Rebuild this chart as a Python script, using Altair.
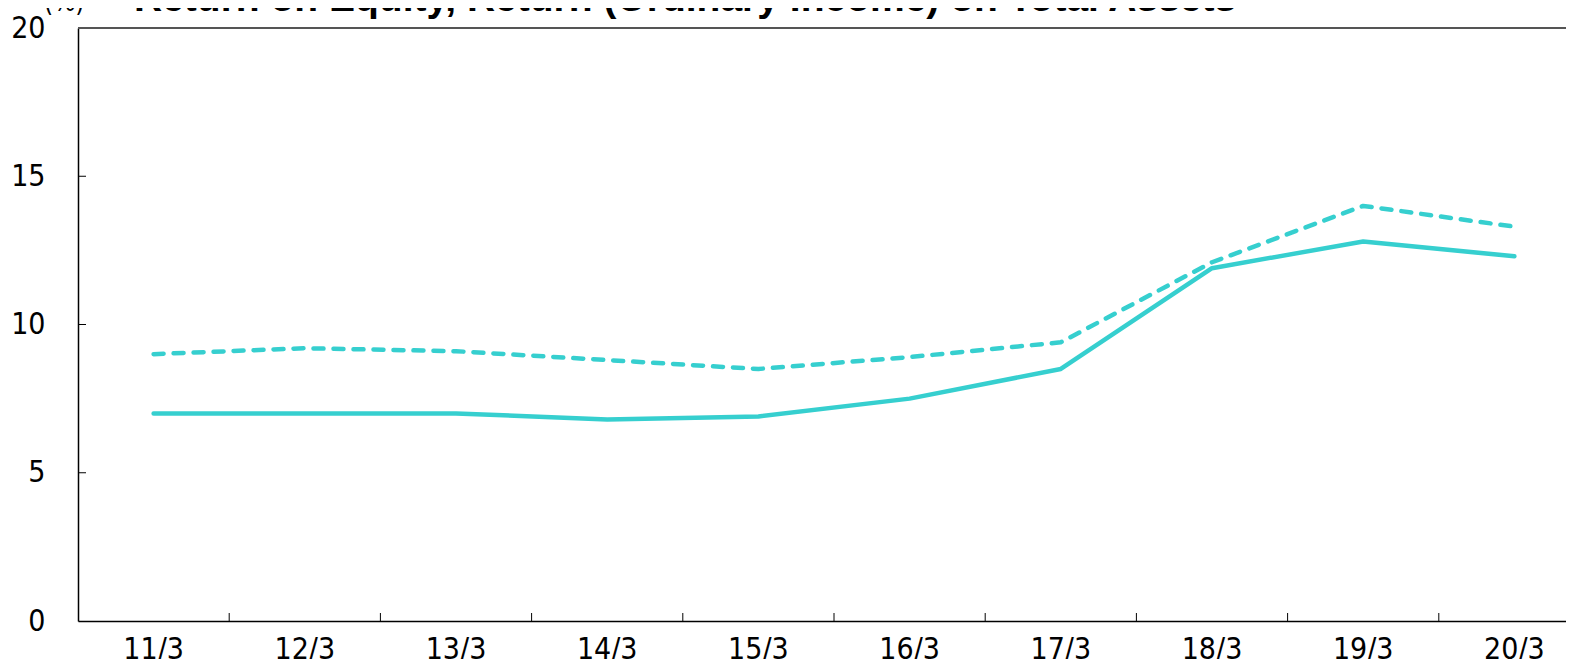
import altair as alt
import pandas as pd

categories = ["11/3", "12/3", "13/3", "14/3", "15/3", "16/3", "17/3", "18/3", "19/3", "20/3"]
roa_ordinary = [7.0, 7.0, 7.0, 6.8, 6.9, 7.5, 8.5, 11.9, 12.8, 12.3]   # solid
roe = [9.0, 9.2, 9.1, 8.8, 8.5, 8.9, 9.4, 12.1, 14.0, 13.3]           # dashed
y_ticks = [5, 10, 15]
title_text = "Return on Equity, Return (Ordinary Income) on Total Assets"
unit_text = "(%)"

COLOR = "#36CFCF"
FONT = "Liberation Sans Narrow, DejaVu Sans Condensed, sans-serif"
W, H = 1488, 593

df_solid = pd.DataFrame({"cat": categories, "v": roa_ordinary})
df_dash = pd.DataFrame({"cat": categories, "v": roe})
df_xt = pd.DataFrame({"cat": categories[1:]})
df_yt = pd.DataFrame({"v": y_ticks})

xscale = alt.Scale(type="band", domain=categories, range=[0, 1512], paddingInner=0, paddingOuter=0)
yscale = alt.Scale(domain=[0, 20], nice=False)

xaxis = alt.Axis(title=None, ticks=False, labelPadding=13, labelFontSize=30, labelFont=FONT,
                 labelAlign="center", labelBaseline="top",
                 labelColor="#000", domainColor="#000", domainWidth=1.5, labelAngle=0, grid=False)
yaxis = alt.Axis(title=None, ticks=False, values=[0, 5, 10, 15, 20], labelPadding=33, labelFontSize=30,
                 labelFont=FONT, labelColor="#000", domainColor="#000", domainWidth=1.5, grid=False)

solid = alt.Chart(df_solid).mark_line(color=COLOR, strokeWidth=4.5, strokeCap="round", strokeJoin="round").encode(
    x=alt.X("cat:N", scale=xscale, axis=xaxis, sort=categories, bandPosition=0.5),
    y=alt.Y("v:Q", scale=yscale, axis=yaxis),
)
dashed = alt.Chart(df_dash).mark_line(color=COLOR, strokeWidth=4.5, strokeDash=[10, 10], strokeCap="round",
                                      strokeJoin="round").encode(
    x=alt.X("cat:N", scale=xscale, sort=categories, bandPosition=0.5),
    y=alt.Y("v:Q", scale=yscale),
)

top_line = alt.Chart(pd.DataFrame({"v": [20]})).mark_rule(color="#555", strokeWidth=2).encode(
    y=alt.Y("v:Q", scale=yscale), x=alt.value(0), x2=alt.value(W)
)

xticks = alt.Chart(df_xt).mark_rule(color="#000", strokeWidth=1).encode(
    x=alt.X("cat:N", scale=xscale, sort=categories, bandPosition=0),
    y=alt.value(H), y2=alt.value(H - 8),
)
yticks = alt.Chart(df_yt).mark_rule(color="#000", strokeWidth=1).encode(
    y=alt.Y("v:Q", scale=yscale), x=alt.value(0), x2=alt.value(8)
)

title = alt.Chart(pd.DataFrame({"t": [title_text]})).mark_text(
    align="left", baseline="alphabetic", fontSize=39, fontWeight="bold", font="Liberation Sans, Arial, sans-serif",
    color="#000"
).encode(text="t:N", x=alt.value(56), y=alt.value(-17))

unit = alt.Chart(pd.DataFrame({"t": [unit_text]})).mark_text(
    align="left", baseline="alphabetic", fontSize=26, font=FONT, color="#000"
).encode(text="t:N", x=alt.value(-34), y=alt.value(-17))

chart = alt.layer(top_line, xticks, yticks, dashed, solid, title, unit).properties(
    width=W, height=H,
    autosize=alt.AutoSizeParams(type="none"),
    padding={"left": 70, "top": 20, "right": 0, "bottom": 38},
).configure_view(stroke=None).configure(background="white")

chart.save("out.html", embed_options={"renderer": "svg", "actions": False})
